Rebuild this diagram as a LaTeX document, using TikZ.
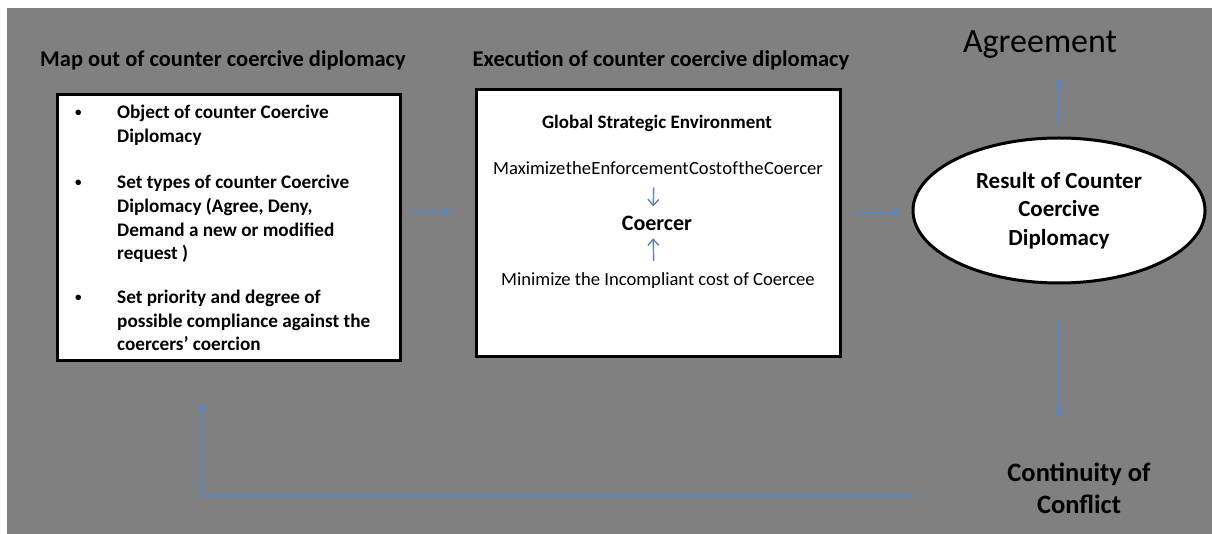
\documentclass[tikz,border=0pt]{standalone}
\usepackage{fontspec}
\setmainfont{Carlito}
\newfontfamily\tightfont{Carlito}[WordSpace=0.1]
\usetikzlibrary{shapes.geometric,arrows.meta}
\definecolor{bggray}{RGB}{128,128,128}
\definecolor{arrblue}{RGB}{88,134,192}
\begin{document}
\begin{tikzpicture}[x=1pt,y=-1pt,
  frame/.style={draw=black,line width=3pt,fill=white,inner sep=0pt},
  heading/.style={font=\fontsize{22.5}{27}\selectfont\bfseries,inner sep=0pt,anchor=base},
  itemline/.style={font=\fontsize{19.2}{23.5}\selectfont\bfseries,inner sep=0pt,anchor=base west},
  bulletmark/.style={font=\fontsize{13}{16}\selectfont\bfseries,inner sep=0pt,anchor=base west},
  plain/.style={font=\fontsize{18.6}{22}\selectfont,inner sep=0pt,anchor=base},
  conn/.style={draw=arrblue,line width=2pt,-{Triangle[length=7pt,width=8pt]}},
  innerconn/.style={draw=arrblue,line width=1.4pt,-{Straight Barb[length=6pt,width=11pt]}}
]
\useasboundingbox (0,0) rectangle (1212,534);
\fill[white] (0,0) rectangle (1212,534);
\fill[bggray] (7,8) rectangle (1212,534);

% headings
\node[heading] (t1) at (223,67) {Map out of counter coercive diplomacy};
\node[heading] (t2) at (661,67) {Execution of counter coercive diplomacy};
\node[font=\fontsize{34}{40}\selectfont,inner sep=0pt,anchor=base] (agree) at (1040,53) {Agreement};

% left box
\node[frame,minimum width=343pt,minimum height=265pt] (box1) at (228.5,227.5) {};
\node[bulletmark] (b1) at (75,117) {•};
\node[itemline] (i1a) at (117,119) {Object of counter Coercive};
\node[itemline] (i1b) at (117,143) {Diplomacy};
\node[bulletmark] (b2) at (75,187) {•};
\node[itemline] (i2a) at (117,189) {Set types of counter Coercive};
\node[itemline] (i2b) at (117,213) {Diplomacy (Agree, Deny,};
\node[itemline] (i2c) at (117,237) {Demand a new or modified};
\node[itemline] (i2d) at (117,260) {request )};
\node[bulletmark] (b3) at (75,302) {•};
\node[itemline] (i3a) at (117,304) {Set priority and degree of};
\node[itemline] (i3b) at (117,328) {possible compliance against the};
\node[itemline] (i3c) at (117,351) {coercers’ coercion};

% middle box
\node[frame,minimum width=364pt,minimum height=266pt] (box2) at (658,223) {};
\node[font=\fontsize{19}{23}\selectfont\bfseries,inner sep=0pt,anchor=base] (gse) at (657,129) {Global Strategic Environment};
\node[plain,font=\fontsize{18.6}{22}\tightfont] (maxi) at (658,175) {Maximize the Enforcement Cost of the Coercer};
\node[font=\fontsize{22}{26}\selectfont\bfseries,inner sep=0pt,anchor=base] (coer) at (657,231) {Coercer};
\node[plain] (mini) at (658,286) {Minimize the Incompliant cost of Coercee};

\draw[innerconn,shorten <=12pt,shorten >=10pt] ([xshift=-4pt]maxi.south) -- ([xshift=-4pt]coer.north);
\draw[innerconn,shorten <=12pt,shorten >=7pt] ([xshift=-4pt]mini.north) -- ([xshift=-4pt]coer.south);

% ellipse
\node[ellipse,draw=black,line width=3pt,fill=white,inner sep=0pt,minimum width=292pt,minimum height=145pt,
  align=center,font=\fontsize{23}{28.5}\selectfont\bfseries] (res) at (1059,210.5)
  {Result of Counter\\Coercive\\Diplomacy};

\node[font=\fontsize{26.5}{32}\selectfont\bfseries,inner sep=0pt,align=center] (cont) at (1079,488)
  {Continuity of\\Conflict};

% connectors
\draw[conn] ([xshift=10pt,yshift=15.5pt]box1.east) -- ([xshift=-23pt,yshift=15.5pt]box1.east -| box2.west);
\draw[conn] ([xshift=15pt,yshift=-2.5pt]res.west -| box2.east) -- ([xshift=-11pt,yshift=-2.5pt]res.west);
\draw[conn,shorten <=11pt,shorten >=20pt] (res.north) -- (res.north |- agree.south);
\draw[conn,shorten <=37pt,shorten >=45pt] (res.south) -- (res.south |- cont.north);
\draw[conn] ([xshift=-92pt,yshift=-8pt]cont.west) -| ([xshift=-26.5pt,yshift=-42pt]box1.south);
\end{tikzpicture}
\end{document}
